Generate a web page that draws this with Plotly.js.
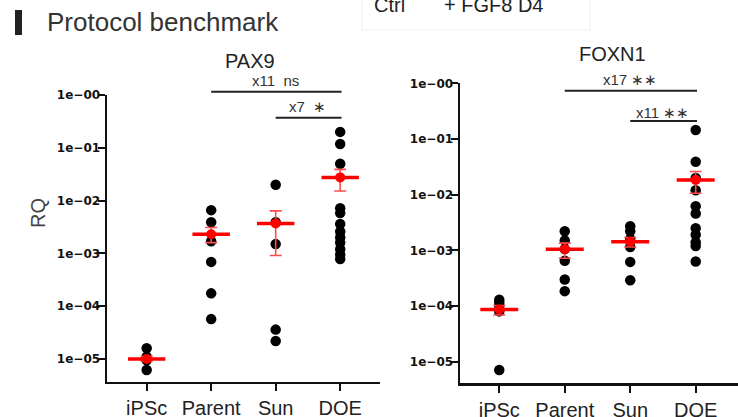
<!DOCTYPE html>
<html>
<head>
<meta charset="utf-8">
<script src="https://cdn.plot.ly/plotly-3.0.1.min.js"></script>
<style>html,body{margin:0;padding:0;background:#fff;}#chart{width:738px;height:417px;}</style>
</head>
<body>
<div id="chart"></div>
<script>
// ---- data ----
const categories = ['iPSc', 'Parent', 'Sun', 'DOE'];
const yTickVals = [1, 0.1, 0.01, 0.001, 0.0001, 0.00001];
const yTickText = ['1e\u221200', '1e\u221201', '1e\u221202', '1e\u221203', '1e\u221204', '1e\u221205'];

const pax9_iPSc   = [1.6e-5, 1.1e-5, 9.5e-6, 6.2e-6];
const pax9_Parent = [6.6e-3, 3.9e-3, 1.7e-3, 6.9e-4, 1.75e-4, 5.7e-5];
const pax9_Sun    = [2.0e-2, 3.9e-3, 1.5e-3, 3.6e-5, 2.2e-5];
const pax9_DOE    = [0.20, 0.118, 0.05, 0.0072, 0.0058, 0.0036, 0.0026, 0.002, 0.0016, 0.0012, 0.00095, 0.00078];
const pax9_mean    = [1.0e-5, 2.3e-3, 3.7e-3, 0.0275];
const pax9_errHigh = [1.12e-5, 3.1e-3, 6.4e-3, 0.039];
const pax9_errLow  = [0.9e-5, 1.6e-3, 9.1e-4, 0.0152];

const foxn1_iPSc   = [1.3e-4, 1.15e-4, 1.0e-4, 8.0e-5, 7.1e-6];
const foxn1_Parent = [2.2e-3, 1.5e-3, 1.05e-3, 6.5e-4, 3.0e-4, 1.85e-4];
const foxn1_Sun    = [2.7e-3, 2.2e-3, 1.6e-3, 1.15e-3, 6.2e-4, 2.9e-4];
const foxn1_DOE    = [0.145, 0.039, 0.02, 0.012, 0.0062, 0.0046, 0.0025, 0.0019, 0.0014, 0.0012, 0.00063];
const foxn1_mean    = [8.7e-5, 1.05e-3, 1.43e-3, 0.0183];
const foxn1_errHigh = [1.02e-4, 1.35e-3, 1.7e-3, 0.026];
const foxn1_errLow  = [6.9e-5, 7.2e-4, 1.15e-3, 0.0106];

const pax9_comparisons_from  = ['Parent', 'Sun'];
const pax9_comparisons_to    = ['DOE', 'DOE'];
const pax9_comparisons_label = ['x11  ns', 'x7  \u2217'];
const foxn1_comparisons_from  = ['Parent', 'Sun'];
const foxn1_comparisons_to    = ['DOE', 'DOE'];
const foxn1_comparisons_label = ['x17 \u2217\u2217', 'x11 \u2217\u2217'];

const panelTitles = ['PAX9', 'FOXN1'];
const legendLabels = ['Ctrl', '+ FGF8 D4'];

// ---- helpers (pixel -> paper) ----
const W = 738, H = 417;
const px = p => p / W;
const py = p => 1 - p / H;

function dotsTrace(groups, xa, ya) {
  const xs = [], ys = [];
  groups.forEach((g, i) => g.forEach(v => { xs.push(i); ys.push(v); }));
  return {x: xs, y: ys, xaxis: xa, yaxis: ya, type: 'scatter', mode: 'markers',
    marker: {color: '#000', size: 10.5}, hoverinfo: 'y', showlegend: false};
}
function meanTrace(mean, hi, lo, xa, ya) {
  return {x: categories.map((c, i) => i), y: mean, xaxis: xa, yaxis: ya, type: 'scatter', mode: 'markers',
    marker: {color: '#ff0000', size: 10},
    error_y: {type: 'data', symmetric: false, array: hi.map((h, i) => h - mean[i]),
      arrayminus: lo.map((l, i) => mean[i] - l), color: '#ff4d4d', thickness: 1.6, width: 6},
    error_x: {type: 'constant', value: 0.29, color: '#ff0000', thickness: 3.5, width: 0},
    showlegend: false};
}

const data = [
  dotsTrace([pax9_iPSc, pax9_Parent, pax9_Sun, pax9_DOE], 'x', 'y'),
  meanTrace(pax9_mean, pax9_errHigh, pax9_errLow, 'x', 'y'),
  dotsTrace([foxn1_iPSc, foxn1_Parent, foxn1_Sun, foxn1_DOE], 'x2', 'y2'),
  meanTrace(foxn1_mean, foxn1_errHigh, foxn1_errLow, 'x2', 'y2')
];

const catFont = {family: 'Liberation Sans, Arial, sans-serif', size: 20, color: '#222'};
const yFont = {family: 'DejaVu Sans, sans-serif', size: 12, color: '#111', weight: 'bold'};

function xAxis(domain, range, anchor) {
  return {domain: domain, range: range, anchor: anchor, type: 'linear',
    tickmode: 'array', tickvals: categories.map((c, i) => i), ticktext: categories,
    showline: true, linecolor: '#111', linewidth: 2.5, ticks: 'outside', ticklen: 7, tickwidth: 2,
    tickcolor: '#111', showgrid: false, zeroline: false, tickfont: catFont, automargin: false, fixedrange: true};
}
function yAxis(domain, range, anchor) {
  return {domain: domain, range: range, anchor: anchor, type: 'log',
    tickmode: 'array', tickvals: yTickVals, ticktext: yTickText,
    showline: true, linecolor: '#111', linewidth: 2.5, ticks: 'outside', ticklen: 7, tickwidth: 2,
    tickcolor: '#111', showgrid: false, zeroline: false, tickfont: yFont, automargin: false, fixedrange: true,
    ticklabelstandoff: -5};
}

const shapes = [
  {type: 'rect', xref: 'paper', yref: 'paper', x0: px(15), x1: px(22), y0: py(35), y1: py(10),
   fillcolor: '#222', line: {width: 0}},
  {type: 'rect', xref: 'paper', yref: 'paper', x0: px(362), x1: px(590), y0: py(30), y1: py(-2),
   fillcolor: 'rgba(0,0,0,0)', line: {width: 1, color: '#f0f0f0'}}
];
const annotations = [];

function addComparisons(from, to, labels, xa, lineYs, textYs) {
  from.forEach((f, k) => {
    const x0 = categories.indexOf(f), x1 = categories.indexOf(to[k]);
    shapes.push({type: 'line', xref: xa, yref: 'paper', x0: x0, x1: x1 + 0.02,
      y0: py(lineYs[k]), y1: py(lineYs[k]), line: {color: '#222', width: 2}});
    annotations.push({xref: xa, yref: 'paper', x: (x0 + x1) / 2, y: py(textYs[k]), text: labels[k],
      showarrow: false, xanchor: 'center', yanchor: 'middle',
      font: {family: 'Liberation Sans, Arial, sans-serif', size: 15, color: '#333'}});
  });
}
addComparisons(pax9_comparisons_from, pax9_comparisons_to, pax9_comparisons_label, 'x', [91.7, 117.7], [80, 106.5]);
addComparisons(foxn1_comparisons_from, foxn1_comparisons_to, foxn1_comparisons_label, 'x2', [90.7, 121], [79.5, 112]);

annotations.push(
  {xref: 'paper', yref: 'paper', x: px(250), y: py(61.5), text: panelTitles[0], showarrow: false,
   xanchor: 'center', yanchor: 'middle', font: {family: 'Liberation Sans, Arial, sans-serif', size: 20, color: '#222'}},
  {xref: 'paper', yref: 'paper', x: px(612.5), y: py(54), text: panelTitles[1], showarrow: false,
   xanchor: 'center', yanchor: 'middle', font: {family: 'Liberation Sans, Arial, sans-serif', size: 20, color: '#222'}},
  {xref: 'paper', yref: 'paper', x: px(38), y: py(213), text: 'RQ', showarrow: false, textangle: -90,
   xanchor: 'center', yanchor: 'middle', font: {family: 'Liberation Sans, Arial, sans-serif', size: 20, color: '#444'}},
  {xref: 'paper', yref: 'paper', x: px(372), y: py(5), text: legendLabels[0], showarrow: false,
   xanchor: 'left', yanchor: 'middle', font: {family: 'Liberation Sans, Arial, sans-serif', size: 20, color: '#222'}},
  {xref: 'paper', yref: 'paper', x: px(442), y: py(5), text: legendLabels[1], showarrow: false,
   xanchor: 'left', yanchor: 'middle', font: {family: 'Liberation Sans, Arial, sans-serif', size: 20, color: '#222'}}
);

const layout = {
  width: W, height: H, margin: {l: 0, r: 0, t: 0, b: 0}, autosize: false,
  paper_bgcolor: '#fff', plot_bgcolor: 'rgba(0,0,0,0)', showlegend: false,
  title: {text: 'Protocol benchmark', x: px(47), xanchor: 'left', y: py(22), yanchor: 'middle',
    font: {family: 'Liberation Sans, Arial, sans-serif', size: 26, color: '#333'}},
  xaxis: xAxis([px(107), px(380)], [-0.615, 3.617], 'y'),
  yaxis: yAxis([py(381.7), py(95)], [-5.43, 0], 'x'),
  xaxis2: xAxis([px(460), 1], [-0.60, 3.646], 'y2'),
  yaxis2: yAxis([py(383.3), py(83.3)], [-5.388, 0], 'x2'),
  shapes: shapes, annotations: annotations
};

Plotly.newPlot('chart', data, layout, {displayModeBar: false, staticPlot: true});
</script>
</body>
</html>
